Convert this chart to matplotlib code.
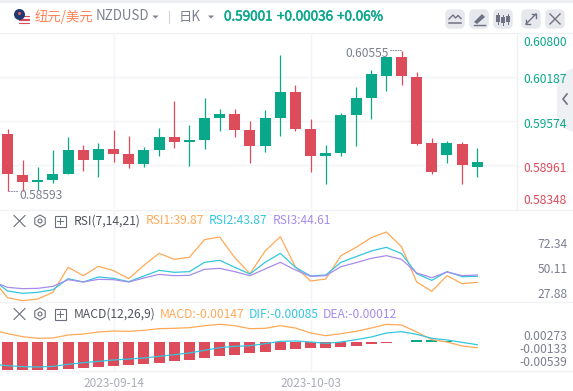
import matplotlib
matplotlib.use("Agg")
import matplotlib.pyplot as plt
import matplotlib.patheffects as pe
from matplotlib.patches import Polygon, Circle, FancyBboxPatch, Rectangle, RegularPolygon
import numpy as np

plt.rcParams['font.family'] = ['Noto Sans CJK SC', 'DejaVu Sans']

W, H = 573, 391

opens = [0.59393,0.58822,0.58724,0.58752,0.58836,0.59170,0.59031,0.59185,0.59114,0.58975,0.59170,0.59351,0.59281,0.59309,0.59616,0.59672,0.59449,0.59226,0.59616,0.59978,0.59463,0.59086,0.59128,0.59658,0.59895,0.60201,0.60466,0.60187,0.59268,0.59100,0.59254,0.58933]
closes= [0.58840,0.58724,0.58752,0.58836,0.59170,0.59031,0.59185,0.59114,0.58975,0.59170,0.59351,0.59281,0.59309,0.59616,0.59672,0.59449,0.59226,0.59616,0.59978,0.59463,0.59086,0.59128,0.59658,0.59895,0.60229,0.60466,0.60201,0.59254,0.58864,0.59268,0.58961,0.59001]
highs = [0.59463,0.59031,0.58933,0.59170,0.59351,0.59240,0.59268,0.59449,0.59365,0.59212,0.59477,0.59853,0.59518,0.59895,0.59741,0.59741,0.59574,0.59727,0.60494,0.60076,0.59602,0.59240,0.59686,0.60048,0.60285,0.60466,0.60555,0.60257,0.59337,0.59295,0.59282,0.59198]
lows  = [0.58593,0.58600,0.58613,0.58710,0.58836,0.58877,0.58794,0.59003,0.58919,0.58933,0.59086,0.59198,0.58947,0.59184,0.59435,0.59351,0.58989,0.59142,0.59365,0.59435,0.58864,0.58696,0.59086,0.59226,0.59602,0.59992,0.60076,0.59240,0.58836,0.58989,0.58696,0.58794]

rsi1 = [41.65,25.05,22.38,23.87,29.79,52.02,44.61,52.91,49.06,41.95,53.80,64.47,59.14,60.92,76.62,79.00,60.62,46.39,66.55,79.29,52.32,39.87,41.65,62.40,69.81,78.40,83.44,70.40,38.98,30.68,44.61,37.50,38.69]
rsi2 = [41.65,30.98,28.90,29.79,32.16,41.95,38.98,43.43,42.24,39.28,44.32,49.36,47.58,48.17,56.47,58.25,52.02,46.10,56.47,64.47,52.02,44.32,45.21,56.47,61.51,66.55,69.81,64.18,46.39,40.46,48.17,43.72,44.02]
rsi3 = [39.57,34.24,33.05,33.35,35.13,41.06,38.98,41.35,41.06,38.98,42.54,45.80,44.61,44.91,50.24,51.13,48.17,44.61,50.54,56.47,49.65,44.02,44.61,52.62,56.17,60.03,62.40,59.14,46.98,42.83,47.87,44.61,45.21]

macd_line = [0.00310,0.00215,0.00138,0.00095,0.00103,0.00181,0.00206,0.00258,0.00284,0.00275,0.00301,0.00344,0.00353,0.00370,0.00421,0.00456,0.00421,0.00344,0.00353,0.00421,0.00361,0.00232,0.00163,0.00215,0.00275,0.00361,0.00456,0.00439,0.00258,0.00060,0.0,-0.00103,-0.00147]
dif_line = [-0.00576,-0.00611,-0.00636,-0.00645,-0.00628,-0.00576,-0.00533,-0.00499,-0.00464,-0.00439,-0.00413,-0.00370,-0.00327,-0.00284,-0.00215,-0.00146,-0.00112,-0.00095,-0.00043,0.00017,0.00026,0.0,-0.00034,0.0,0.00060,0.00129,0.00232,0.00267,0.00198,0.00095,0.00052,-0.00009,-0.00070]
hist = [-0.00722,-0.00722,-0.00722,-0.00722,-0.00697,-0.00662,-0.00636,-0.00628,-0.00602,-0.00568,-0.00533,-0.00482,-0.00456,-0.00404,-0.00353,-0.00327,-0.00284,-0.00258,-0.00206,-0.00181,-0.00155,-0.00155,-0.00129,-0.00103,-0.00052,-0.00017,0.00009,0.00043,0.00052,0.00026,0.00009,-0.00012]

price_ticks = [0.60800,0.60187,0.59574,0.58961,0.58348]
price_labels = ['0.60800','0.60187','0.59574','0.58961','0.58348']
rsi_ticks = [72.34,50.11,27.88]
macd_ticks = [0.00273,-0.00133,-0.00539]
date_labels = ['2023-09-14','2023-10-03']
date_idx = [7,20]

GREEN, RED = '#0aa88b', '#dc4c5a'
ORANGE, CYAN, PURPLE = '#ffa958', '#33c6e0', '#a78cec'
GRID = '#f3f4f8'
GRAY = '#7d8092'

fig = plt.figure(figsize=(W/100, H/100), dpi=100, facecolor='white')

# background furniture, drawn beneath the panes
bg = fig.add_axes([0, 0, 1, 1], facecolor='none', zorder=-1)
bg.set_xlim(0, W); bg.set_ylim(H, 0); bg.axis('off')
bg.add_patch(Polygon([(573, 68), (557, 77), (557, 125), (573, 132)], color='#eff0f4', lw=0))
bg.plot([567, 563, 567], [94, 99, 104], color='#6f7283', lw=1.2)
for y0 in (33, 210, 302, 371):
    bg.plot([0, W], [y0, y0], color='#f1f2f6', lw=1)
bg.plot([517, 517], [33, 210], color='#eff0f4', lw=1)

def pane(top, bottom, right=517):
    a = fig.add_axes([0, 1-bottom/H, right/W, (bottom-top)/H], facecolor='none')
    a.set_xlim((0-7.5)/15.155, (right-7.5)/15.155)
    for s in a.spines.values():
        s.set_visible(False)
    a.tick_params(length=0, labelleft=False, labelbottom=False)
    a.set_xticks(date_idx)
    a.xaxis.grid(True, color=GRID, lw=1)
    a.set_axisbelow(True)
    return a

def side(a, val, txt, x_px, dy_px, color, ha='left', size=8.7):
    a.annotate(txt, xy=(0, val), xycoords=a.get_yaxis_transform(), xytext=(x_px*0.72, -dy_px*0.72),
               textcoords='offset points', color=color, ha=ha, va='center', fontsize=size, annotation_clip=False)

# ---------- main
ax = pane(33, 209)
ax.set_ylim(0.58348, 0.60800)
ax.set_yticks(price_ticks[1:4])
ax.yaxis.grid(True, color=GRID, lw=1)
x = np.arange(len(opens))
for i in x:
    c = GREEN if closes[i] >= opens[i] else RED
    ax.vlines(i, lows[i], highs[i], color=c, lw=0.9, zorder=2)
    ax.bar(i, closes[i]-opens[i], bottom=opens[i], width=0.726, color=c, lw=0, zorder=3)
for v, t_, dy, c in zip(price_ticks, price_labels, [9, 2.5, 3, 3, -8], [GREEN, GREEN, GREEN, RED, RED]):
    side(ax, v, t_, 523, dy, c)

hi_i = int(np.argmax(highs)); lo_i = int(np.argmin(lows))
ax.annotate(f'{highs[hi_i]:.5f}', xy=(hi_i, highs[hi_i]), xytext=(-13*0.72, -3*0.72), textcoords='offset points',
            ha='right', va='center', color=GRAY, fontsize=8.7)
ax.annotate(f'{lows[lo_i]:.5f}', xy=(lo_i, lows[lo_i]), xytext=(11.5*0.72, -4.5*0.72), textcoords='offset points',
            ha='left', va='center', color=GRAY, fontsize=8.7)
ax.annotate('', xy=(hi_i, highs[hi_i]), xytext=(-11*0.72, 0), textcoords='offset points',
            arrowprops=dict(arrowstyle='-', ls=(0, (1, 1.6)), color=GRAY, lw=0.7, shrinkA=0, shrinkB=0))
ax.annotate('', xy=(lo_i, lows[lo_i]), xytext=(10*0.72, 0), textcoords='offset points',
            arrowprops=dict(arrowstyle='-', ls=(0, (1, 1.6)), color=GRAY, lw=0.7, shrinkA=0, shrinkB=0))

# ---------- RSI
ax2 = pane(210, 302)
ax2.set_ylim(21.2, 103.0)
xl = np.arange(-1, len(opens))
ax2.plot(xl, rsi1, color=ORANGE, lw=0.9)
ax2.plot(xl, rsi2, color=CYAN, lw=0.9)
ax2.plot(xl, rsi3, color=PURPLE, lw=0.9)
for v in rsi_ticks:
    side(ax2, v, f'{v:.2f}', 568, 0, GRAY, ha='right')

# ---------- MACD
ax3 = pane(302, 371)
ax3.set_ylim(-0.00748, 0.01032)
ax3.bar(x, hist, width=0.726, color=[GREEN if h > 0 else RED for h in hist], lw=0, zorder=2)
ax3.plot(xl, macd_line, color=ORANGE, lw=0.9, zorder=3)
ax3.plot(xl, dif_line, color=CYAN, lw=0.9, zorder=3)
for v, dy in zip(macd_ticks, [5, 2.5, 0]):
    side(ax3, v, f'{v:.5f}', 567, dy, GRAY, ha='right')
ax3.set_xticklabels(date_labels)
ax3.tick_params(axis='x', labelbottom=True, labelsize=8.5, labelcolor='#a9acb9', pad=4)

# ---------- header and icons in pixel coordinates
ui = fig.add_axes([0, 0, 1, 1], facecolor='none', zorder=5)
ui.set_xlim(0, W); ui.set_ylim(H, 0); ui.axis('off')
ui.add_patch(Rectangle((0, 0), W, 3, color='#eceef3', lw=0))

def t(px, py, s, c, size=9.4, ha='left', w='normal', stroke=0):
    txt = ui.text(px, py, s, color=c, fontsize=size, ha=ha, va='center', fontweight=w)
    if stroke:
        txt.set_path_effects([pe.withStroke(linewidth=stroke, foreground=c)])

t(35, 16.5, '纽元/美元', '#ff8257', 9.6)
t(96, 16.5, 'NZDUSD', GRAY, 9.6)
t(179, 16.5, '日K', GRAY, 9.6)
t(224, 16.5, '0.59001', GREEN, 9.7, stroke=0.35)
t(277, 16.5, '+0.00036', GREEN, 9.7, stroke=0.35)
t(337, 16.5, '+0.06%', GREEN, 9.7, stroke=0.35)
for cx in (155.5, 211):
    ui.add_patch(Polygon([(cx-3, 15.5), (cx+3, 15.5), (cx, 18.5)], color=GRAY, lw=0))
ui.plot([169, 169], [11, 23], color='#d3d5de', lw=0.8)

# flag icon
ui.add_patch(Circle((24, 20), 6, color='#f4f4f6', lw=0))
for yy, hh in ((15.5, 1.6), (19, 1.6), (22.5, 1.6)):
    ui.add_patch(Rectangle((18.5, yy), 11.5, hh, color='#e04a58', lw=0))
ui.add_patch(Circle((19.5, 14.5), 5.5, color='#1f3a6e', lw=0))
ui.plot([19], [13], marker='o', ms=1.3, color='#e05a60')

# header buttons
for cx in (455, 479, 503, 531, 555):
    ui.add_patch(FancyBboxPatch((cx-8, 11), 16, 16, boxstyle='round,pad=0,rounding_size=3', fc='#e6e8ee', ec='#e6e8ee', lw=2.5))
ic = '#6f7283'
ui.plot([449, 453, 455.5, 458, 461], [19, 15, 18, 15.5, 18.5], color=ic, lw=1)
ui.plot([449, 461], [23, 23], color=ic, lw=1.1)
ui.add_patch(Polygon([(474, 22), (482, 14), (485, 17), (477, 24)], color=ic, lw=0))
ui.plot([474, 485], [25, 25], color=ic, lw=1)
for cx, a, b in ((498, 14, 23), (503, 16, 24), (508, 15, 23)):
    ui.add_patch(Rectangle((cx-2, a+1), 4, b-a-2, color=ic, lw=0))
    ui.plot([cx, cx], [a-1, b+1], color=ic, lw=0.7)
ui.plot([526, 536], [24, 14], color=ic, lw=1)
ui.plot([532, 536, 536], [14, 14, 18], color=ic, lw=1)
ui.plot([526, 526, 530], [20, 24, 24], color=ic, lw=1)
ui.plot([550, 560], [14, 24], color=ic, lw=1)
ui.plot([550, 560], [24, 14], color=ic, lw=1)

# indicator headers
for yy in (221, 314):
    ui.plot([14, 25], [yy-5.5, yy+5.5], color='#6a6d7c', lw=0.8)
    ui.plot([14, 25], [yy+5.5, yy-5.5], color='#6a6d7c', lw=0.8)
    ui.add_patch(RegularPolygon((40, yy), 6, radius=6, fill=False, ec='#6a6d7c', lw=0.8))
    ui.add_patch(Circle((40, yy), 2, fill=False, ec='#6a6d7c', lw=0.8))
    ui.add_patch(Rectangle((54.5, yy-5), 11, 10.5, fill=False, ec='#6a6d7c', lw=0.8))
    ui.plot([57, 63], [yy, yy], color='#6a6d7c', lw=0.7)
    ui.plot([60, 60], [yy-3, yy+3], color='#6a6d7c', lw=0.7)
fs = 8.7
t(74, 221, 'RSI(7,14,21)', '#50535f', fs)
t(146, 221, 'RSI1:39.87', ORANGE, fs)
t(209, 221, 'RSI2:43.87', CYAN, fs)
t(273, 221, 'RSI3:44.61', PURPLE, fs)
t(74, 314, 'MACD(12,26,9)', '#50535f', fs)
t(160, 314, 'MACD:-0.00147', ORANGE, fs)
t(249, 314, 'DIF:-0.00085', CYAN, fs)
t(323, 314, 'DEA:-0.00012', PURPLE, fs)

fig.savefig('out.png', dpi=100)
